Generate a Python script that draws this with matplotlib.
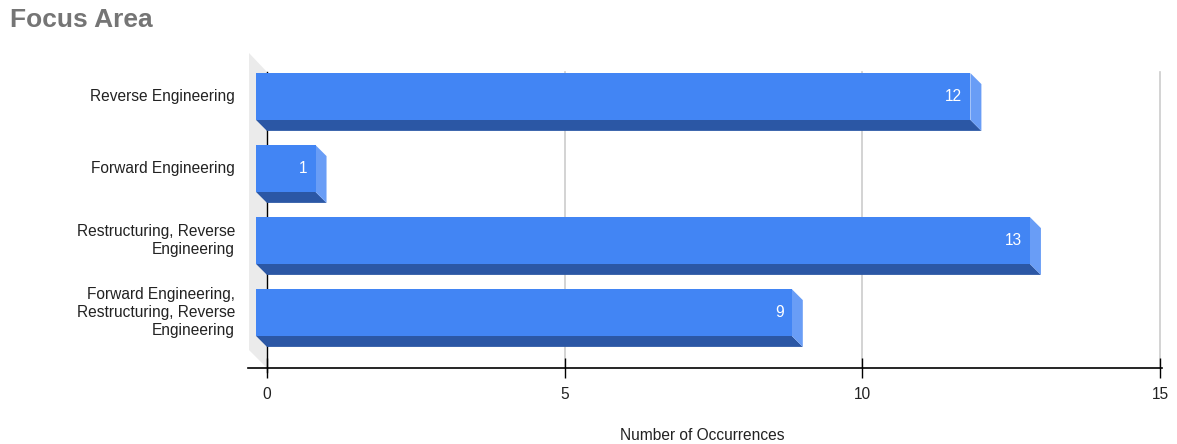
import numpy as np
import matplotlib
matplotlib.use('Agg')
import matplotlib.pyplot as plt
import matplotlib.transforms as mtransforms

plt.rcParams['font.family'] = ['Liberation Sans', 'DejaVu Sans']

# data
categories = ['Reverse Engineering',
              'Forward Engineering',
              'Restructuring, Reverse\nEngineering',
              'Forward Engineering,\nRestructuring, Reverse\nEngineering']
counts = [12, 1, 13, 9]
x_ticks = [0, 5, 10, 15]

W, H = 1177, 444
fig = plt.figure(figsize=(W / 100, H / 100), dpi=100)

# axes box = back plane of the 3d chart (pixels)
left_px, right_px, top_px, bot_px = 267, 1160, 72, 368
ax = fig.add_axes([left_px / W, 1 - bot_px / H,
                   (right_px - left_px) / W, (bot_px - top_px) / H])

ymin, ymax = -0.493, 3.618
ax.set_xlim(0, 15)
ax.set_ylim(ymax, ymin)

# pixel -> data scale
px_x = 15 / (right_px - left_px)
px_y = (ymax - ymin) / (bot_px - top_px)
depth = 11
dx = depth * px_x
dy = depth * px_y

front = '#4285f4'
bottom_c = '#2b57a5'
side_c = '#699df6'
h = 0.65
fs = 11.2

pos = np.arange(len(counts))

# left wall
wall = 18
ax.fill([-wall * px_x, 0, 0, -wall * px_x],
        [ymin - 19 * px_y, ymin, ymax, ymax - 18 * px_y],
        color='#ebebeb', lw=0, clip_on=False, zorder=0)

# gridlines (drawn by hand so the one at 15 is not clipped)
for t in x_ticks[1:]:
    ax.plot([t, t], [ymin, ymax], color='#cccccc', lw=1.2, zorder=1,
            clip_on=False)
ax.plot([0, 0], [ymin, ymax + 4 * px_y], color='black', lw=1, zorder=2,
        clip_on=False)

for p, v in zip(pos, counts):
    yb = p + h / 2
    yt = p - h / 2
    # bottom face
    ax.fill([-dx, v - dx, v, 0], [yb - dy, yb - dy, yb, yb],
            color=bottom_c, lw=0, clip_on=False, zorder=3)
    # right face
    ax.fill([v - dx, v, v, v - dx], [yt - dy, yt, yb, yb - dy],
            color=side_c, lw=0, clip_on=False, zorder=3)

ax.barh(pos - dy, counts, left=-dx, height=h, color=front, lw=0,
        zorder=4, clip_on=False)

for p, v in zip(pos, counts):
    ax.text(v - dx - 8 * px_x, p - dy, str(v), color='white', fontsize=fs,
            ha='right', va='center', zorder=5)

# category labels
lab_tr = mtransforms.blended_transform_factory(ax.transAxes, ax.transData)
lab_tr = mtransforms.offset_copy(lab_tr, fig=fig, x=-32, y=0, units='dots')
for p, c in zip(pos, categories):
    ax.text(0, p - dy, c, transform=lab_tr, ha='right', va='center',
            fontsize=fs, color='#222222', linespacing=1.23)

ax.set_yticks([])
ax.set_xticks(x_ticks)
ax.tick_params(axis='x', direction='inout', length=14, width=1,
               colors='black', labelcolor='#222222', labelsize=fs, pad=7)
for s in ['top', 'right', 'left']:
    ax.spines[s].set_visible(False)
ax.spines['bottom'].set_bounds(-19 * px_x, 15 + 2 * px_x)
ax.spines['bottom'].set_linewidth(1.2)

fig.text(702 / W, 1 - 435 / H, 'Number of Occurrences', ha='center',
         va='center', fontsize=fs, color='#222222')
fig.text(10 / W, 1 - 20 / H, 'Focus Area', ha='left', va='center',
         fontsize=19, fontweight='bold', color='#757575')

fig.savefig('out.png', dpi=100)
